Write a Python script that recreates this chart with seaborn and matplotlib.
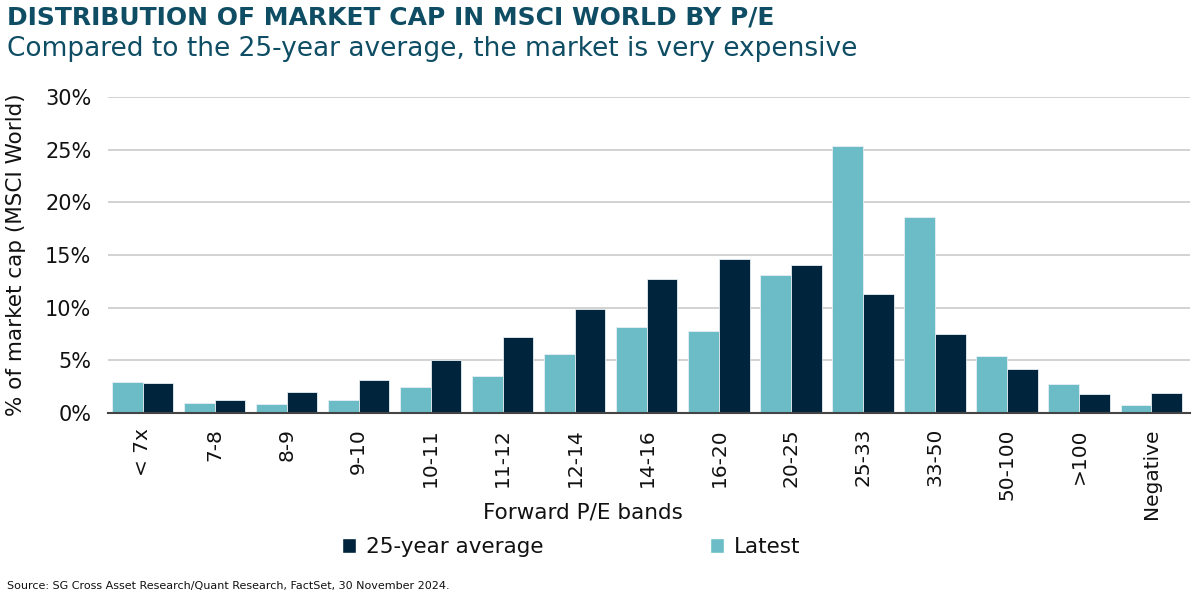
import pandas as pd
import matplotlib.pyplot as plt
import matplotlib.ticker as mticker
from matplotlib.patches import Patch
import seaborn as sns

# values (% of MSCI World market cap)
bands = ["< 7x", "7-8", "8-9", "9-10", "10-11", "11-12", "12-14", "14-16",
         "16-20", "20-25", "25-33", "33-50", "50-100", ">100", "Negative"]
latest = [2.9, 0.9, 0.85, 1.2, 2.5, 3.5, 5.6, 8.2, 7.8, 13.1, 25.4, 18.6, 5.4, 2.7, 0.7]
avg_25y = [2.8, 1.25, 2.0, 3.15, 5.0, 7.25, 9.9, 12.7, 14.6, 14.05, 11.3, 7.45, 4.2, 1.8, 1.9]

NAVY = "#01243D"
TEAL = "#6BBCC6"
TITLE_COL = "#0E4D64"
TXT = "#111111"

df = pd.DataFrame({
    "band": bands * 2,
    "value": latest + avg_25y,
    "series": ["Latest"] * len(bands) + ["25-year average"] * len(bands),
})

sns.set_theme(style="white")
plt.rcParams["font.family"] = ["DejaVu Sans"]

fig = plt.figure(figsize=(12, 6), dpi=100)
ax = fig.add_axes([0.09, 0.312, 0.9017, 0.526])

sns.barplot(data=df, x="band", y="value", hue="series",
            hue_order=["Latest", "25-year average"],
            palette={"Latest": TEAL, "25-year average": NAVY},
            width=0.85, gap=0, saturation=1, ax=ax, legend=False,
            edgecolor="#E8F0F2", linewidth=0.6)

ax.set_ylim(0, 30)
ax.set_xlim(-0.48, len(bands) - 0.46)
ax.yaxis.set_major_locator(mticker.MultipleLocator(5))
ax.yaxis.set_major_formatter(mticker.FuncFormatter(lambda v, _: f"{v:.0f}%"))
ax.grid(axis="y", color="#CFCFCF", linewidth=1.3)
ax.set_axisbelow(True)

for s in ["top", "right", "left"]:
    ax.spines[s].set_visible(False)
ax.spines["bottom"].set_color("#444444")
ax.spines["bottom"].set_linewidth(1.5)
ax.tick_params(axis="both", length=0)
ax.tick_params(axis="y", labelsize=15, pad=12, colors=TXT)
ax.tick_params(axis="x", labelsize=14.5, pad=11, colors=TXT)
plt.setp(ax.get_xticklabels(), rotation=90, va="top", ha="center")

ax.set_xlabel("")
ax.set_ylabel("% of market cap (MSCI World)", fontsize=15.5, color=TXT, labelpad=14)
fig.text(0.486, 1 - 513 / 600, "Forward P/E bands", fontsize=15.5, color=TXT,
         ha="center", va="center")

handles = [Patch(facecolor=NAVY, label="25-year average"),
           Patch(facecolor=TEAL, label="Latest")]
fig.legend(handles=handles, loc="center", bbox_to_anchor=(0.476, 0.088), ncol=2,
           frameon=False, fontsize=15.5, handlelength=0.65, handleheight=0.65,
           handletextpad=0.5, columnspacing=7.7, labelcolor=TXT)

fig.text(0.006, 0.971, "DISTRIBUTION OF MARKET CAP IN MSCI WORLD BY P/E",
         fontsize=18, fontweight="bold", color=TITLE_COL, va="center")
fig.text(0.006, 0.919, "Compared to the 25-year average, the market is very expensive",
         fontsize=19, color=TITLE_COL, va="center")
fig.text(0.006, 0.024, "Source: SG Cross Asset Research/Quant Research, FactSet, 30 November 2024.",
         fontsize=8, color=TXT, va="center")

fig.savefig("out.png", dpi=100)
plt.close(fig)
